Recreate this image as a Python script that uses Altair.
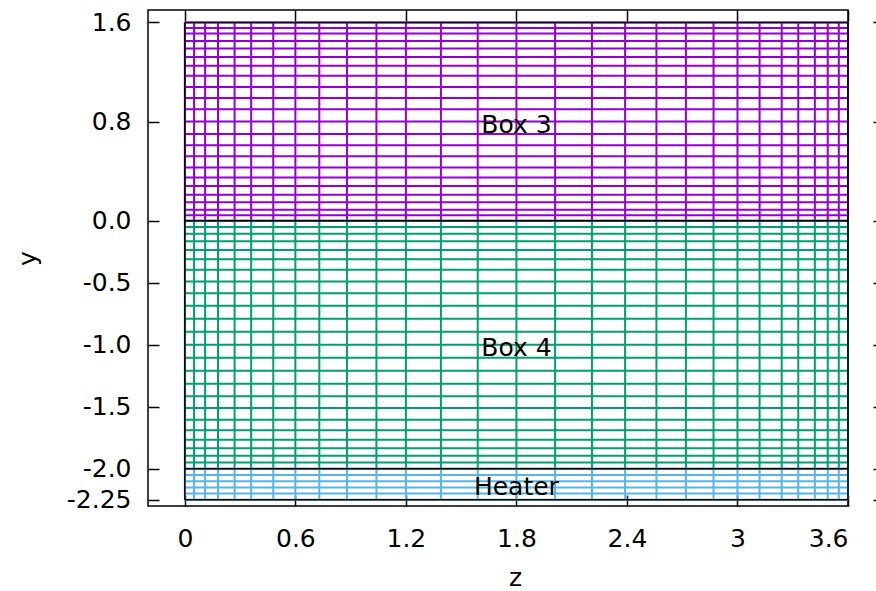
import altair as alt
import pandas as pd

# Mesh node coordinates (z direction shared by all boxes)
x_nodes = [0.0, 0.05, 0.11, 0.18, 0.27, 0.36, 0.48, 0.60, 0.73, 0.88, 1.04, 1.20,
           1.39, 1.59, 1.80, 2.01, 2.21, 2.39, 2.56, 2.72, 2.87, 3.00, 3.12, 3.24,
           3.33, 3.42, 3.49, 3.55, 3.60]

# y nodes of each box
box3_y = [0.0, 0.045, 0.09, 0.15, 0.21, 0.28, 0.35, 0.43, 0.52, 0.61, 0.70, 0.80,
          0.90, 0.99, 1.08, 1.17, 1.25, 1.32, 1.39, 1.45, 1.51, 1.555, 1.6]
box4_y = [0.0, -0.05, -0.105, -0.165, -0.235, -0.31, -0.395, -0.49, -0.585, -0.685,
          -0.79, -0.895, -1.0, -1.105, -1.21, -1.315, -1.415, -1.51, -1.605, -1.69,
          -1.765, -1.835, -1.895, -1.95, -2.0]
heater_y = [-2.0, -2.05, -2.1, -2.15, -2.2, -2.25]

boxes = ["Box 3", "Box 4", "Heater"]
box_colors = ["#9400d3", "#009e73", "#56b4e9"]
box_nodes = [box3_y, box4_y, heater_y]

# Labels placed in the middle of each box
label_x = [1.8, 1.8, 1.8]
label_y = [0.8, -1.0, -2.125]

# Axis ticks
x_ticks = [0, 0.6, 1.2, 1.8, 2.4, 3, 3.6]
y_ticks = [1.6, 0.8, 0.0, -0.5, -1.0, -1.5, -2.0, -2.25]
y_tick_labels = ["1.6", "0.8", "0.0", "-0.5", "-1.0", "-1.5", "-2.0", "-2.25"]

# Box outlines
edge_y = [1.6, 0.0, -2.0, -2.25]
edge_x = [0.0, 3.6]

FONT = "DejaVu Sans"
FS = 25

# Build line segments of the mesh
rows = []
for name, ys in zip(boxes, box_nodes):
    lo, hi = min(ys), max(ys)
    for xv in x_nodes:
        rows.append({"box": name, "x": xv, "x2": xv, "y": lo, "y2": hi})
    for yv in ys:
        rows.append({"box": name, "x": x_nodes[0], "x2": x_nodes[-1], "y": yv, "y2": yv})
mesh_df = pd.DataFrame(rows)

edge_rows = []
for yv in edge_y:
    edge_rows.append({"x": edge_x[0], "x2": edge_x[1], "y": yv, "y2": yv})
for xv in edge_x:
    edge_rows.append({"x": xv, "x2": xv, "y": min(edge_y), "y2": max(edge_y)})
edge_df = pd.DataFrame(edge_rows)

label_df = pd.DataFrame({"box": boxes, "x": label_x, "y": label_y})

xscale = alt.Scale(domain=[-0.2, 3.6], nice=False, zero=False)
yscale = alt.Scale(domain=[-2.3, 1.7], nice=False, zero=False)

label_expr = " : ".join(
    f"datum.value == {v} ? '{s}'" for v, s in zip(y_ticks, y_tick_labels)
) + " : ''"

common = dict(domain=False, grid=False, tickColor="black", tickWidth=1.5,
              labelFont=FONT, labelFontSize=FS, labelColor="black",
              titleFont=FONT, titleFontSize=FS, titleColor="black",
              titleFontWeight="normal")

bottom_axis = alt.Axis(orient="bottom", values=x_ticks, format="~g", offset=-11,
                       tickSize=11, labelPadding=20, title="z", titleX=367,
                       titleY=90, titleBaseline="alphabetic", titleAlign="center",
                       **common)
left_axis = alt.Axis(orient="left", values=y_ticks, labelExpr=label_expr, offset=-11,
                     tickSize=11, labelPadding=17, title="y", titleX=-132,
                     titleY=248, titleAngle=270, titleBaseline="middle",
                     titleAlign="center", **common)
top_axis = alt.Axis(orient="top", values=x_ticks, offset=-11, tickSize=11,
                    labels=False, title=None, **common)
right_axis = alt.Axis(orient="right", values=y_ticks, offset=25, tickSize=10,
                      labels=False, title=None, **common)

mesh = alt.Chart(mesh_df).mark_rule(strokeWidth=2).encode(
    x=alt.X("x:Q", scale=xscale, axis=bottom_axis),
    x2="x2:Q",
    y=alt.Y("y:Q", scale=yscale, axis=left_axis),
    y2="y2:Q",
    color=alt.Color("box:N", scale=alt.Scale(domain=boxes, range=box_colors),
                    legend=None),
)

edges = alt.Chart(edge_df).mark_rule(strokeWidth=1.5, color="black").encode(
    x=alt.X("x:Q", scale=xscale, axis=None),
    x2="x2:Q",
    y=alt.Y("y:Q", scale=yscale, axis=None),
    y2="y2:Q",
)

labels = alt.Chart(label_df).mark_text(
    font=FONT, fontSize=FS, color="black", align="center", baseline="middle", dy=3
).encode(
    x=alt.X("x:Q", scale=xscale, axis=top_axis),
    y=alt.Y("y:Q", scale=yscale, axis=right_axis),
    text="box:N",
)

chart = (
    alt.layer(mesh, edges, labels)
    .resolve_axis(x="independent", y="independent")
    .properties(
        width=700,
        height=496,
        autosize=alt.AutoSizeParams(type="none"),
        padding={"left": 148, "top": 10, "right": 28, "bottom": 85},
        background="white",
    )
    .configure_view(stroke="black", strokeWidth=1.5)
)

chart.save("out.html", embed_options={"renderer": "svg", "actions": False})
